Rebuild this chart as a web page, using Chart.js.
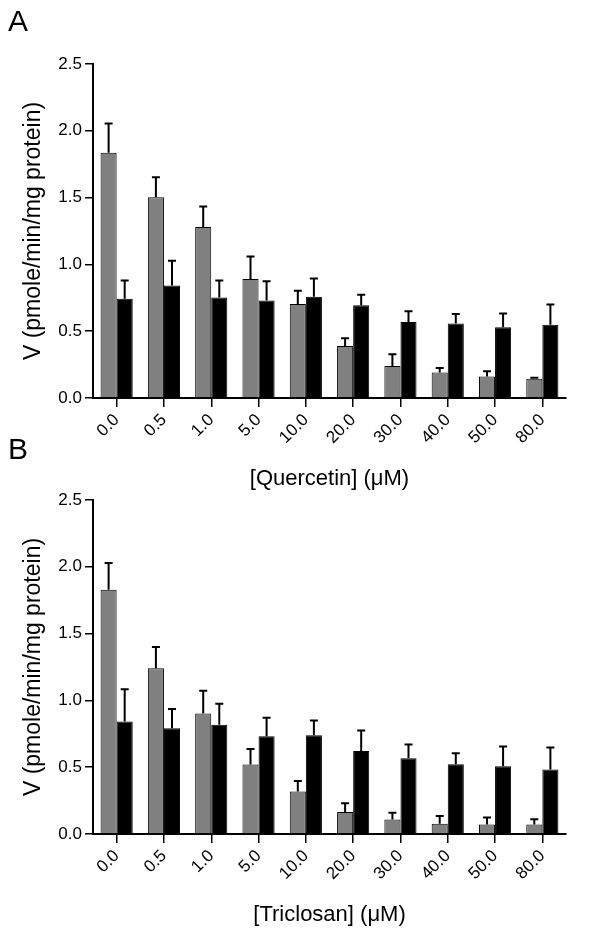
<!DOCTYPE html>
<html>
<head>
<meta charset="utf-8">
<script src="https://cdn.jsdelivr.net/npm/chart.js@4.4.1/dist/chart.umd.min.js"></script>
<style>
  body { margin: 0; background: #fff; }
  #wrap { position: relative; width: 604px; height: 936px; overflow: hidden; }
  canvas { position: absolute; left: 0; }
  .panel { position: absolute; left: 8px; font: 30px "Liberation Sans", Arial, sans-serif; line-height: 1; color: #000; }
</style>
</head>
<body>
<div id="wrap">
  <canvas id="chartA" width="604" height="500" style="top:0px"></canvas>
  <canvas id="chartB" width="604" height="500" style="top:436px"></canvas>
  <div class="panel" style="top:6px">A</div>
  <div class="panel" style="top:434px">B</div>
</div>
<script>
const concLabels = ['0.0', '0.5', '1.0', '5.0', '10.0', '20.0', '30.0', '40.0', '50.0', '80.0'];

// panel A - quercetin
const quercetinGray = [1.835, 1.503, 1.28, 0.89, 0.703, 0.39, 0.24, 0.19, 0.16, 0.145];
const quercetinGraySem = [0.22, 0.15, 0.153, 0.17, 0.10, 0.058, 0.088, 0.035, 0.04, 0.007];
const quercetinBlack = [0.743, 0.843, 0.752, 0.73, 0.758, 0.695, 0.568, 0.557, 0.53, 0.548];
const quercetinBlackSem = [0.137, 0.185, 0.128, 0.143, 0.137, 0.078, 0.082, 0.071, 0.102, 0.152];

// panel B - triclosan
const triclosanGray = [1.828, 1.24, 0.902, 0.52, 0.319, 0.164, 0.109, 0.077, 0.071, 0.071];
const triclosanGraySem = [0.20, 0.16, 0.17, 0.117, 0.078, 0.067, 0.05, 0.057, 0.053, 0.04];
const triclosanBlack = [0.842, 0.792, 0.817, 0.732, 0.74, 0.622, 0.567, 0.522, 0.507, 0.482];
const triclosanBlackSem = [0.241, 0.143, 0.158, 0.138, 0.11, 0.153, 0.103, 0.082, 0.148, 0.165];

const yTicks = [0, 0.5, 1.0, 1.5, 2.0, 2.5];

const FONT = '"Liberation Sans", Arial, sans-serif';

// draws the upward SEM whiskers on top of each bar
const errorBars = {
    id: 'errorBars',
    afterDatasetsDraw(chart) {
        const ctx = chart.ctx;
        const yScale = chart.scales.y;
        chart.data.datasets.forEach((ds, i) => {
            const meta = chart.getDatasetMeta(i);
            meta.data.forEach((bar, j) => {
                const top = yScale.getPixelForValue(ds.data[j] + ds.sem[j]);
                ctx.save();
                ctx.strokeStyle = '#000';
                ctx.lineWidth = 2;
                ctx.beginPath();
                ctx.moveTo(bar.x, bar.y);
                ctx.lineTo(bar.x, top);
                ctx.moveTo(bar.x - 4, top);
                ctx.lineTo(bar.x + 4, top);
                ctx.stroke();
                ctx.restore();
            });
        });
    }
};

function generateChart(target, gray, graySem, black, blackSem, xTitle) {
    return new Chart(target, {
        type: 'bar',
        data: {
            labels: concLabels,
            datasets: [
                { data: gray, sem: graySem, backgroundColor: '#808080', borderColor: '#000', borderWidth: 1 },
                { data: black, sem: blackSem, backgroundColor: '#000', borderColor: '#000', borderWidth: 1 }
            ]
        },
        options: {
            responsive: false,
            animation: false,
            devicePixelRatio: 1,
            categoryPercentage: 0.68,
            barPercentage: 1.0,
            layout: { padding: { top: 64, right: 38, left: 0, bottom: 0 } },
            plugins: { legend: { display: false }, tooltip: { enabled: false } },
            scales: {
                x: {
                    ticks: { minRotation: 45, maxRotation: 45, color: '#000', padding: 3, font: { family: FONT, size: 17 } },
                    grid: { offset: false, drawOnChartArea: false, tickLength: 9, color: '#000', lineWidth: 1.5 },
                    border: { color: '#000', width: 2 },
                    title: { display: true, text: xTitle, color: '#000', font: { family: FONT, size: 22 }, padding: { top: 0, bottom: 8 } },
                    afterFit: s => { s.height = 102; }
                },
                y: {
                    min: 0,
                    max: 2.5,
                    afterBuildTicks: s => { s.ticks = yTicks.map(v => ({ value: v })); },
                    ticks: { color: '#000', padding: 3, font: { family: FONT, size: 17 }, callback: v => Number(v).toFixed(1) },
                    grid: { drawOnChartArea: false, tickLength: 8, color: '#000', lineWidth: 1.5 },
                    border: { color: '#000', width: 2 },
                    title: { display: true, text: 'V (pmole/min/mg protein)', color: '#000', font: { family: FONT, size: 23 }, padding: { top: 20, bottom: 0 } },
                    afterFit: s => { s.width = 93; }
                }
            }
        },
        plugins: [errorBars]
    });
}

generateChart(document.querySelector('#chartA'), quercetinGray, quercetinGraySem, quercetinBlack, quercetinBlackSem, '[Quercetin] (μM)');
generateChart(document.querySelector('#chartB'), triclosanGray, triclosanGraySem, triclosanBlack, triclosanBlackSem, '[Triclosan] (μM)');
</script>
</body>
</html>
